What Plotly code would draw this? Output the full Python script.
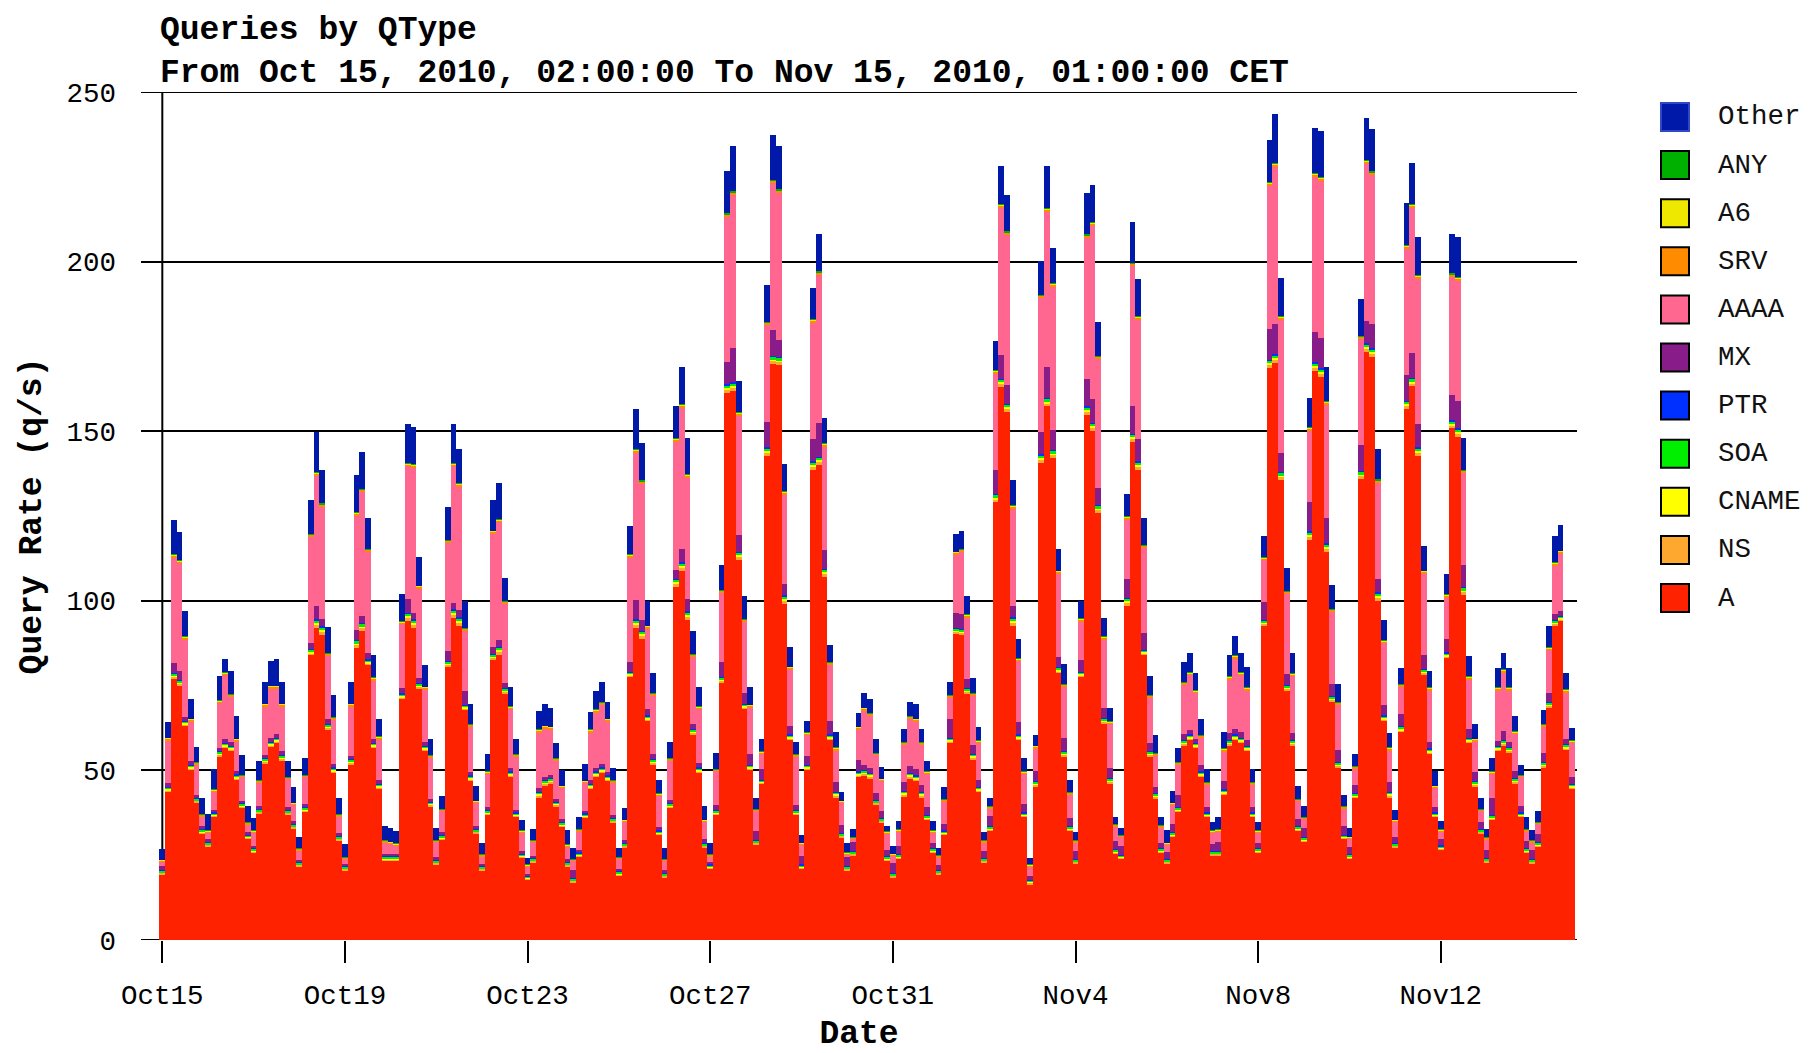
import plotly.graph_objects as go
from datetime import datetime, timedelta

# ---------------------------------------------------------------------------
# DNS query rate by query type, 3-hour bins (q/s), Oct 15 - Nov 15, 2010
# ---------------------------------------------------------------------------
FIRST_BIN = datetime(2010, 10, 15, 0, 0)
BIN_HOURS = 3

A = [
    19.4, 43.5, 77.0, 75.0, 63.0, 50.0, 40.6, 31.4,
    27.7, 36.3, 54.0, 56.5, 55.6, 47.1, 39.0, 29.8,
    25.8, 37.4, 51.9, 56.8, 58.0, 52.9, 37.1, 33.0,
    21.8, 37.9, 84.0, 92.0, 90.0, 62.0, 49.2, 29.4,
    20.6, 51.6, 86.0, 91.0, 81.0, 56.5, 44.4, 23.4,
    23.4, 23.4, 71.0, 94.0, 92.0, 74.0, 55.6, 39.5,
    22.3, 29.6, 80.6, 95.0, 92.7, 67.7, 46.8, 31.5,
    20.6, 37.0, 82.6, 84.0, 72.6, 48.0, 36.3, 24.2,
    17.7, 22.9, 42.0, 45.5, 46.0, 39.5, 33.5, 21.8,
    17.0, 24.5, 36.0, 44.4, 48.0, 49.2, 46.8, 34.7,
    19.0, 27.4, 77.4, 92.0, 88.7, 64.5, 51.6, 31.0,
    18.5, 39.0, 104.0, 108.9, 94.4, 60.5, 49.2, 27.4,
    21.0, 37.0, 75.8, 161.3, 162.0, 112.0, 68.0, 50.0,
    28.2, 46.0, 142.7, 169.7, 169.4, 99.2, 58.9, 37.0,
    21.0, 50.0, 138.7, 140.0, 107.0, 58.9, 42.0, 30.3,
    20.6, 25.0, 48.0, 48.4, 47.6, 40.0, 34.7, 23.4,
    18.5, 24.0, 42.3, 47.6, 46.8, 42.0, 35.5, 25.8,
    19.4, 31.0, 58.0, 90.3, 90.0, 72.6, 53.2, 43.5,
    22.9, 32.3, 129.0, 163.0, 155.6, 92.7, 58.9, 36.3,
    16.5, 45.2, 140.7, 157.3, 142.0, 78.7, 54.0, 32.3,
    22.6, 77.4, 154.8, 150.0, 125.8, 63.7, 46.0, 25.5,
    23.9, 98.4, 146.8, 138.7, 83.9, 54.0, 41.6, 25.8,
    22.6, 30.5, 37.9, 57.3, 58.9, 56.5, 48.0, 36.3,
    25.0, 25.0, 42.7, 57.3, 58.9, 58.0, 55.6, 36.3,
    25.8, 92.7, 168.6, 170.2, 135.5, 73.4, 57.3, 32.3,
    29.0, 118.0, 167.8, 166.0, 114.5, 70.2, 50.8, 29.8,
    24.0, 42.0, 135.8, 173.4, 172.0, 100.0, 64.5, 42.0,
    27.4, 61.3, 156.5, 163.2, 142.7, 78.2, 54.8, 36.3,
    26.6, 83.1, 150.8, 148.4, 101.6, 58.0, 45.2, 31.5,
    22.9, 35.5, 55.6, 57.3, 55.2, 46.0, 36.3, 25.8,
    22.6, 27.5, 50.8, 68.5, 92.7, 93.9, 56.0, 44.4,
]

NS = [
    0.4, 0.6, 0.6, 0.6, 0.6, 0.6, 0.4, 0.4,
    0.4, 0.4, 0.6, 0.6, 0.6, 0.6, 0.4, 0.4,
    0.4, 0.4, 0.6, 0.6, 0.6, 0.6, 0.4, 0.4,
    0.4, 0.4, 0.6, 1.0, 1.0, 0.6, 0.6, 0.4,
    0.4, 0.6, 1.0, 1.0, 0.6, 0.6, 0.6, 0.4,
    0.4, 0.4, 0.6, 1.0, 1.0, 0.6, 0.6, 0.4,
    0.4, 0.4, 0.6, 1.0, 1.0, 0.6, 0.6, 0.4,
    0.4, 0.4, 0.6, 1.0, 0.6, 0.6, 0.4, 0.4,
    0.4, 0.4, 0.6, 0.6, 0.6, 0.4, 0.4, 0.4,
    0.4, 0.4, 0.4, 0.6, 0.6, 0.6, 0.6, 0.4,
    0.4, 0.4, 0.6, 1.0, 1.0, 0.6, 0.6, 0.4,
    0.4, 0.4, 1.0, 1.0, 1.0, 0.6, 0.6, 0.4,
    0.4, 0.4, 0.6, 1.0, 1.0, 1.0, 0.6, 0.6,
    0.4, 0.4, 1.0, 1.0, 1.0, 1.0, 0.6, 0.4,
    0.4, 0.6, 1.0, 1.0, 1.0, 0.6, 0.6, 0.4,
    0.4, 0.4, 0.6, 0.6, 0.6, 0.4, 0.4, 0.4,
    0.4, 0.4, 0.6, 0.6, 0.6, 0.6, 0.4, 0.4,
    0.4, 0.4, 0.6, 0.6, 0.6, 0.6, 0.6, 0.6,
    0.4, 0.4, 1.0, 1.0, 1.0, 1.0, 0.6, 0.4,
    0.4, 0.6, 1.0, 1.0, 1.0, 0.6, 0.6, 0.4,
    0.4, 0.6, 1.0, 1.0, 1.0, 0.6, 0.6, 0.4,
    0.4, 1.0, 1.0, 1.0, 0.6, 0.6, 0.6, 0.4,
    0.4, 0.4, 0.4, 0.6, 0.6, 0.6, 0.6, 0.4,
    0.4, 0.4, 0.6, 0.6, 0.6, 0.6, 0.6, 0.4,
    0.4, 0.6, 1.0, 1.0, 1.0, 0.6, 0.6, 0.4,
    0.4, 1.0, 1.0, 1.0, 1.0, 0.6, 0.6, 0.4,
    0.4, 0.4, 1.0, 1.0, 1.0, 1.0, 0.6, 0.6,
    0.4, 0.6, 1.0, 1.0, 1.0, 0.6, 0.6, 0.4,
    0.4, 0.6, 1.0, 1.0, 1.0, 0.6, 0.6, 0.4,
    0.4, 0.4, 0.6, 0.6, 0.6, 0.6, 0.4, 0.4,
    0.4, 0.4, 0.6, 0.6, 0.6, 0.6, 0.6, 0.6,
]

CNAME = [
    0.2, 0.3, 0.3, 0.3, 0.3, 0.3, 0.2, 0.2,
    0.2, 0.2, 0.3, 0.3, 0.3, 0.3, 0.2, 0.2,
    0.2, 0.2, 0.3, 0.3, 0.3, 0.3, 0.2, 0.2,
    0.2, 0.2, 0.3, 0.4, 0.4, 0.3, 0.3, 0.2,
    0.2, 0.3, 0.4, 0.4, 0.3, 0.3, 0.3, 0.2,
    0.2, 0.2, 0.3, 0.4, 0.4, 0.3, 0.3, 0.2,
    0.2, 0.2, 0.3, 0.4, 0.4, 0.3, 0.3, 0.2,
    0.2, 0.2, 0.3, 0.4, 0.3, 0.3, 0.2, 0.2,
    0.2, 0.2, 0.3, 0.3, 0.3, 0.2, 0.2, 0.2,
    0.2, 0.2, 0.2, 0.3, 0.3, 0.3, 0.3, 0.2,
    0.2, 0.2, 0.3, 0.4, 0.4, 0.3, 0.3, 0.2,
    0.2, 0.2, 0.4, 0.4, 0.4, 0.3, 0.3, 0.2,
    0.2, 0.2, 0.3, 0.4, 0.4, 0.4, 0.3, 0.3,
    0.2, 0.2, 0.4, 0.4, 0.4, 0.4, 0.3, 0.2,
    0.2, 0.3, 0.4, 0.4, 0.4, 0.3, 0.3, 0.2,
    0.2, 0.2, 0.3, 0.3, 0.3, 0.2, 0.2, 0.2,
    0.2, 0.2, 0.3, 0.3, 0.3, 0.3, 0.2, 0.2,
    0.2, 0.2, 0.3, 0.3, 0.3, 0.3, 0.3, 0.3,
    0.2, 0.2, 0.4, 0.4, 0.4, 0.4, 0.3, 0.2,
    0.2, 0.3, 0.4, 0.4, 0.4, 0.3, 0.3, 0.2,
    0.2, 0.3, 0.4, 0.4, 0.4, 0.3, 0.3, 0.2,
    0.2, 0.4, 0.4, 0.4, 0.3, 0.3, 0.3, 0.2,
    0.2, 0.2, 0.2, 0.3, 0.3, 0.3, 0.3, 0.2,
    0.2, 0.2, 0.3, 0.3, 0.3, 0.3, 0.3, 0.2,
    0.2, 0.3, 0.4, 0.4, 0.4, 0.3, 0.3, 0.2,
    0.2, 0.4, 0.4, 0.4, 0.4, 0.3, 0.3, 0.2,
    0.2, 0.2, 0.4, 0.4, 0.4, 0.4, 0.3, 0.3,
    0.2, 0.3, 0.4, 0.4, 0.4, 0.3, 0.3, 0.2,
    0.2, 0.3, 0.4, 0.4, 0.4, 0.3, 0.3, 0.2,
    0.2, 0.2, 0.3, 0.3, 0.3, 0.3, 0.2, 0.2,
    0.2, 0.2, 0.3, 0.3, 0.3, 0.3, 0.3, 0.3,
]

SOA = [
    0.5, 0.6, 0.6, 0.6, 0.6, 0.6, 0.5, 0.5,
    0.5, 0.5, 0.6, 0.6, 0.6, 0.6, 0.5, 0.5,
    0.5, 0.5, 0.6, 0.6, 0.6, 0.6, 0.5, 0.5,
    0.5, 0.5, 0.6, 0.8, 0.8, 0.6, 0.6, 0.5,
    0.5, 0.6, 0.8, 0.8, 0.6, 0.6, 0.6, 0.5,
    0.5, 0.5, 0.6, 0.8, 0.8, 0.6, 0.6, 0.5,
    0.5, 0.5, 0.6, 0.8, 0.8, 0.6, 0.6, 0.5,
    0.5, 0.5, 0.6, 0.8, 0.6, 0.6, 0.5, 0.5,
    0.5, 0.5, 0.6, 0.6, 0.6, 0.5, 0.5, 0.5,
    0.5, 0.5, 0.5, 0.6, 0.6, 0.6, 0.6, 0.5,
    0.5, 0.5, 0.6, 0.8, 0.8, 0.6, 0.6, 0.5,
    0.5, 0.5, 0.8, 0.8, 0.8, 0.6, 0.6, 0.5,
    0.5, 0.5, 0.6, 0.8, 0.8, 0.8, 0.6, 0.6,
    0.5, 0.5, 0.8, 0.8, 0.8, 0.8, 0.6, 0.5,
    0.5, 0.6, 0.8, 0.8, 0.8, 0.6, 0.6, 0.5,
    0.5, 0.5, 0.6, 0.6, 0.6, 0.5, 0.5, 0.5,
    0.5, 0.5, 0.6, 0.6, 0.6, 0.6, 0.5, 0.5,
    0.5, 0.5, 0.6, 0.6, 0.6, 0.6, 0.6, 0.6,
    0.5, 0.5, 0.8, 0.8, 0.8, 0.8, 0.6, 0.5,
    0.5, 0.6, 0.8, 0.8, 0.8, 0.6, 0.6, 0.5,
    0.5, 0.6, 0.8, 0.8, 0.8, 0.6, 0.6, 0.5,
    0.5, 0.8, 0.8, 0.8, 0.6, 0.6, 0.6, 0.5,
    0.5, 0.5, 0.5, 0.6, 0.6, 0.6, 0.6, 0.5,
    0.5, 0.5, 0.6, 0.6, 0.6, 0.6, 0.6, 0.5,
    0.5, 0.6, 0.8, 0.8, 0.8, 0.6, 0.6, 0.5,
    0.5, 0.8, 0.8, 0.8, 0.8, 0.6, 0.6, 0.5,
    0.5, 0.5, 0.8, 0.8, 0.8, 0.8, 0.6, 0.6,
    0.5, 0.6, 0.8, 0.8, 0.8, 0.6, 0.6, 0.5,
    0.5, 0.6, 0.8, 0.8, 0.8, 0.6, 0.6, 0.5,
    0.5, 0.5, 0.6, 0.6, 0.6, 0.6, 0.5, 0.5,
    0.5, 0.5, 0.6, 0.6, 0.6, 0.6, 0.6, 0.6,
]

PTR = [
    0.2, 0.2, 0.2, 0.2, 0.2, 0.2, 0.2, 0.2,
    0.2, 0.2, 0.2, 0.2, 0.2, 0.2, 0.2, 0.2,
    0.2, 0.2, 0.2, 0.2, 0.2, 0.2, 0.2, 0.2,
    0.2, 0.2, 0.2, 0.3, 0.3, 0.2, 0.2, 0.2,
    0.2, 0.2, 0.3, 0.3, 0.2, 0.2, 0.2, 0.2,
    0.2, 0.2, 0.2, 0.3, 0.3, 0.2, 0.2, 0.2,
    0.2, 0.2, 0.2, 0.3, 0.3, 0.2, 0.2, 0.2,
    0.2, 0.2, 0.2, 0.3, 0.2, 0.2, 0.2, 0.2,
    0.2, 0.2, 0.2, 0.2, 0.2, 0.2, 0.2, 0.2,
    0.2, 0.2, 0.2, 0.2, 0.2, 0.2, 0.2, 0.2,
    0.2, 0.2, 0.2, 0.3, 0.3, 0.2, 0.2, 0.2,
    0.2, 0.2, 0.3, 0.3, 0.3, 0.2, 0.2, 0.2,
    0.2, 0.2, 0.2, 0.3, 0.3, 0.3, 0.2, 0.2,
    0.2, 0.2, 0.3, 0.3, 0.3, 0.3, 0.2, 0.2,
    0.2, 0.2, 0.3, 0.3, 0.3, 0.2, 0.2, 0.2,
    0.2, 0.2, 0.2, 0.2, 0.2, 0.2, 0.2, 0.2,
    0.2, 0.2, 0.2, 0.2, 0.2, 0.2, 0.2, 0.2,
    0.2, 0.2, 0.2, 0.2, 0.2, 0.2, 0.2, 0.2,
    0.2, 0.2, 0.3, 0.3, 0.3, 0.3, 0.2, 0.2,
    0.2, 0.2, 0.3, 0.3, 0.3, 0.2, 0.2, 0.2,
    0.2, 0.2, 0.3, 0.3, 0.3, 0.2, 0.2, 0.2,
    0.2, 0.3, 0.3, 0.3, 0.2, 0.2, 0.2, 0.2,
    0.2, 0.2, 0.2, 0.2, 0.2, 0.2, 0.2, 0.2,
    0.2, 0.2, 0.2, 0.2, 0.2, 0.2, 0.2, 0.2,
    0.2, 0.2, 0.3, 0.3, 0.3, 0.2, 0.2, 0.2,
    0.2, 0.3, 0.3, 0.3, 0.3, 0.2, 0.2, 0.2,
    0.2, 0.2, 0.3, 0.3, 0.3, 0.3, 0.2, 0.2,
    0.2, 0.2, 0.3, 0.3, 0.3, 0.2, 0.2, 0.2,
    0.2, 0.2, 0.3, 0.3, 0.3, 0.2, 0.2, 0.2,
    0.2, 0.2, 0.2, 0.2, 0.2, 0.2, 0.2, 0.2,
    0.2, 0.2, 0.2, 0.2, 0.2, 0.2, 0.2, 0.2,
]

MX = [
    1.0, 1.0, 3.0, 2.5, 1.0, 1.0, 0.8, 0.8,
    0.8, 0.8, 1.0, 1.0, 1.0, 1.0, 0.8, 0.6,
    0.6, 0.8, 1.0, 1.0, 1.0, 1.0, 0.8, 0.8,
    0.6, 0.8, 2.0, 4.0, 2.0, 1.5, 1.0, 0.8,
    0.6, 1.0, 3.0, 2.0, 2.0, 1.0, 1.0, 0.8,
    0.8, 0.8, 1.5, 4.0, 2.0, 1.5, 1.0, 0.8,
    1.0, 0.8, 3.0, 2.0, 2.0, 4.0, 1.0, 0.8,
    0.6, 0.8, 2.0, 2.0, 1.5, 1.0, 0.8, 0.6,
    0.6, 0.6, 1.0, 1.0, 1.0, 0.8, 0.8, 0.8,
    2.4, 0.8, 0.8, 1.0, 1.0, 1.0, 1.0, 0.8,
    0.6, 0.8, 3.0, 5.6, 3.0, 2.0, 1.5, 1.0,
    0.8, 1.0, 2.5, 4.0, 3.5, 1.5, 1.2, 1.0,
    0.8, 1.5, 4.5, 6.5, 10.0, 5.0, 3.0, 3.0,
    2.5, 3.0, 7.5, 7.5, 5.0, 3.2, 2.5, 1.6,
    2.5, 2.5, 6.5, 10.0, 5.5, 4.0, 3.0, 2.3,
    2.5, 2.5, 3.5, 1.5, 1.5, 2.0, 2.0, 1.8,
    3.0, 2.5, 2.5, 2.0, 2.0, 2.0, 2.5, 1.5,
    1.5, 2.0, 5.5, 4.5, 4.5, 2.5, 2.6, 2.0,
    2.0, 3.0, 7.0, 7.0, 5.6, 3.2, 3.7, 2.4,
    1.0, 2.8, 6.5, 9.0, 5.8, 3.0, 3.9, 2.4,
    2.4, 3.5, 8.0, 7.0, 5.0, 3.0, 3.0, 2.5,
    2.5, 5.6, 8.0, 6.5, 4.8, 2.5, 1.8, 1.5,
    2.0, 2.5, 3.5, 1.6, 1.2, 1.2, 2.0, 1.6,
    2.0, 2.7, 2.4, 2.0, 1.5, 1.5, 1.6, 1.6,
    1.5, 5.3, 9.0, 9.0, 5.6, 3.2, 2.0, 2.2,
    2.7, 8.7, 8.9, 8.9, 7.3, 3.7, 3.5, 2.5,
    2.0, 2.5, 7.5, 6.5, 7.0, 4.0, 3.0, 3.0,
    1.8, 3.5, 7.5, 7.5, 7.0, 4.0, 2.0, 1.6,
    2.0, 4.0, 7.3, 8.0, 6.5, 2.6, 2.6, 2.0,
    2.4, 5.0, 1.5, 2.5, 1.5, 2.2, 2.0, 2.0,
    2.6, 2.4, 2.7, 2.7, 1.6, 1.5, 1.6, 2.0,
]

AAAA = [
    1.4, 12.7, 31.2, 32.0, 23.0, 11.8, 9.1, 3.0,
    1.9, 5.4, 13.2, 19.0, 13.5, 8.8, 7.0, 2.4,
    4.0, 7.0, 14.3, 14.7, 13.5, 13.3, 8.3, 4.8,
    2.8, 8.1, 31.2, 38.3, 33.1, 18.7, 13.1, 5.0,
    1.4, 14.6, 33.5, 36.5, 29.8, 17.4, 12.1, 3.3,
    2.9, 2.4, 19.0, 39.1, 42.7, 26.5, 15.6, 12.3,
    4.3, 6.4, 31.9, 40.1, 36.4, 17.8, 13.4, 6.9,
    2.2, 10.0, 33.6, 34.6, 23.4, 17.4, 15.8, 5.6,
    2.1, 4.1, 16.6, 14.2, 13.4, 11.4, 9.3, 3.7,
    2.6, 5.5, 8.3, 14.2, 16.5, 17.5, 15.0, 9.7,
    3.0, 5.4, 30.8, 43.6, 40.2, 23.7, 17.3, 9.3,
    2.7, 11.7, 37.9, 41.5, 35.9, 19.9, 16.0, 5.2,
    1.6, 10.1, 20.4, 42.8, 45.1, 35.1, 21.2, 13.9,
    6.1, 4.7, 28.5, 43.4, 43.3, 26.3, 16.7, 14.3,
    3.3, 6.3, 34.3, 43.5, 30.4, 16.6, 9.3, 6.6,
    0.8, 1.0, 8.9, 16.1, 15.4, 11.3, 9.0, 4.9,
    2.1, 4.2, 11.1, 14.0, 14.0, 11.9, 9.8, 3.1,
    2.2, 6.6, 6.3, 17.2, 18.3, 18.4, 14.6, 10.9,
    2.6, 2.3, 28.5, 43.4, 44.1, 28.7, 18.0, 9.1,
    2.9, 6.8, 39.5, 45.9, 42.2, 24.7, 15.1, 7.0,
    2.5, 11.4, 41.6, 51.0, 37.9, 20.3, 13.0, 4.3,
    2.7, 17.4, 41.3, 35.1, 25.3, 13.3, 9.3, 4.7,
    2.2, 5.6, 9.1, 14.7, 16.4, 13.5, 8.0, 6.7,
    3.4, 3.0, 8.9, 15.9, 21.0, 17.0, 14.8, 6.7,
    3.1, 12.4, 42.2, 46.2, 39.3, 23.8, 16.9, 5.2,
    2.7, 21.0, 45.8, 46.5, 33.5, 21.2, 13.4, 5.3,
    2.6, 4.9, 31.3, 46.4, 44.0, 28.2, 18.4, 9.3,
    4.4, 8.2, 37.3, 42.7, 42.7, 24.2, 15.2, 5.7,
    2.1, 12.3, 34.8, 35.5, 27.0, 14.6, 9.1, 3.3,
    3.1, 7.3, 14.9, 17.5, 15.3, 10.9, 8.5, 3.0,
    2.3, 3.0, 7.7, 12.6, 14.5, 16.9, 13.8, 10.0,
]

SRV = [
    0.4, 0.5, 0.5, 0.5, 0.5, 0.5, 0.4, 0.4,
    0.4, 0.4, 0.5, 0.5, 0.5, 0.5, 0.4, 0.4,
    0.4, 0.4, 0.5, 0.5, 0.5, 0.5, 0.4, 0.4,
    0.4, 0.4, 0.5, 0.7, 0.7, 0.5, 0.5, 0.4,
    0.4, 0.5, 0.7, 0.7, 0.5, 0.5, 0.5, 0.4,
    0.4, 0.4, 0.5, 0.7, 0.7, 0.5, 0.5, 0.4,
    0.4, 0.4, 0.5, 0.7, 0.7, 0.5, 0.5, 0.4,
    0.4, 0.4, 0.5, 0.7, 0.5, 0.5, 0.4, 0.4,
    0.4, 0.4, 0.5, 0.5, 0.5, 0.4, 0.4, 0.4,
    0.4, 0.4, 0.4, 0.5, 0.5, 0.5, 0.5, 0.4,
    0.4, 0.4, 0.5, 0.7, 0.7, 0.5, 0.5, 0.4,
    0.4, 0.4, 0.7, 0.7, 0.7, 0.5, 0.5, 0.4,
    0.4, 0.4, 0.5, 0.7, 0.7, 0.7, 0.5, 0.5,
    0.4, 0.4, 0.7, 0.7, 0.7, 0.7, 0.5, 0.4,
    0.4, 0.5, 0.7, 0.7, 0.7, 0.5, 0.5, 0.4,
    0.4, 0.4, 0.5, 0.5, 0.5, 0.4, 0.4, 0.4,
    0.4, 0.4, 0.5, 0.5, 0.5, 0.5, 0.4, 0.4,
    0.4, 0.4, 0.5, 0.5, 0.5, 0.5, 0.5, 0.5,
    0.4, 0.4, 0.7, 0.7, 0.7, 0.7, 0.5, 0.4,
    0.4, 0.5, 0.7, 0.7, 0.7, 0.5, 0.5, 0.4,
    0.4, 0.5, 0.7, 0.7, 0.7, 0.5, 0.5, 0.4,
    0.4, 0.7, 0.7, 0.7, 0.5, 0.5, 0.5, 0.4,
    0.4, 0.4, 0.4, 0.5, 0.5, 0.5, 0.5, 0.4,
    0.4, 0.4, 0.5, 0.5, 0.5, 0.5, 0.5, 0.4,
    0.4, 0.5, 0.7, 0.7, 0.7, 0.5, 0.5, 0.4,
    0.4, 0.7, 0.7, 0.7, 0.7, 0.5, 0.5, 0.4,
    0.4, 0.4, 0.7, 0.7, 0.7, 0.7, 0.5, 0.5,
    0.4, 0.5, 0.7, 0.7, 0.7, 0.5, 0.5, 0.4,
    0.4, 0.5, 0.7, 0.7, 0.7, 0.5, 0.5, 0.4,
    0.4, 0.4, 0.5, 0.5, 0.5, 0.5, 0.4, 0.4,
    0.4, 0.4, 0.5, 0.5, 0.5, 0.5, 0.5, 0.5,
]

A6 = [
    0.1, 0.2, 0.2, 0.2, 0.2, 0.2, 0.1, 0.1,
    0.1, 0.1, 0.2, 0.2, 0.2, 0.2, 0.1, 0.1,
    0.1, 0.1, 0.2, 0.2, 0.2, 0.2, 0.1, 0.1,
    0.1, 0.1, 0.2, 0.2, 0.2, 0.2, 0.2, 0.1,
    0.1, 0.2, 0.2, 0.2, 0.2, 0.2, 0.2, 0.1,
    0.1, 0.1, 0.2, 0.2, 0.2, 0.2, 0.2, 0.1,
    0.1, 0.1, 0.2, 0.2, 0.2, 0.2, 0.2, 0.1,
    0.1, 0.1, 0.2, 0.2, 0.2, 0.2, 0.1, 0.1,
    0.1, 0.1, 0.2, 0.2, 0.2, 0.1, 0.1, 0.1,
    0.1, 0.1, 0.1, 0.2, 0.2, 0.2, 0.2, 0.1,
    0.1, 0.1, 0.2, 0.2, 0.2, 0.2, 0.2, 0.1,
    0.1, 0.1, 0.2, 0.2, 0.2, 0.2, 0.2, 0.1,
    0.1, 0.1, 0.2, 0.2, 0.2, 0.2, 0.2, 0.2,
    0.1, 0.1, 0.2, 0.2, 0.2, 0.2, 0.2, 0.1,
    0.1, 0.2, 0.2, 0.2, 0.2, 0.2, 0.2, 0.1,
    0.1, 0.1, 0.2, 0.2, 0.2, 0.1, 0.1, 0.1,
    0.1, 0.1, 0.2, 0.2, 0.2, 0.2, 0.1, 0.1,
    0.1, 0.1, 0.2, 0.2, 0.2, 0.2, 0.2, 0.2,
    0.1, 0.1, 0.2, 0.2, 0.2, 0.2, 0.2, 0.1,
    0.1, 0.2, 0.2, 0.2, 0.2, 0.2, 0.2, 0.1,
    0.1, 0.2, 0.2, 0.2, 0.2, 0.2, 0.2, 0.1,
    0.1, 0.2, 0.2, 0.2, 0.2, 0.2, 0.2, 0.1,
    0.1, 0.1, 0.1, 0.2, 0.2, 0.2, 0.2, 0.1,
    0.1, 0.1, 0.2, 0.2, 0.2, 0.2, 0.2, 0.1,
    0.1, 0.2, 0.2, 0.2, 0.2, 0.2, 0.2, 0.1,
    0.1, 0.2, 0.2, 0.2, 0.2, 0.2, 0.2, 0.1,
    0.1, 0.1, 0.2, 0.2, 0.2, 0.2, 0.2, 0.2,
    0.1, 0.2, 0.2, 0.2, 0.2, 0.2, 0.2, 0.1,
    0.1, 0.2, 0.2, 0.2, 0.2, 0.2, 0.2, 0.1,
    0.1, 0.1, 0.2, 0.2, 0.2, 0.2, 0.1, 0.1,
    0.1, 0.1, 0.2, 0.2, 0.2, 0.2, 0.2, 0.2,
]

ANY = [
    0.1, 0.1, 0.1, 0.1, 0.1, 0.1, 0.1, 0.1,
    0.1, 0.1, 0.1, 0.1, 0.1, 0.1, 0.1, 0.1,
    0.1, 0.1, 0.1, 0.1, 0.1, 0.1, 0.1, 0.1,
    0.1, 0.1, 0.1, 0.2, 0.2, 0.1, 0.1, 0.1,
    0.1, 0.1, 0.2, 0.2, 0.1, 0.1, 0.1, 0.1,
    0.1, 0.1, 0.1, 0.2, 0.2, 0.1, 0.1, 0.1,
    0.1, 0.1, 0.1, 0.2, 0.2, 0.1, 0.1, 0.1,
    0.1, 0.1, 0.1, 0.2, 0.1, 0.1, 0.1, 0.1,
    0.1, 0.1, 0.1, 0.1, 0.1, 0.1, 0.1, 0.1,
    0.1, 0.1, 0.1, 0.1, 0.1, 0.1, 0.1, 0.1,
    0.1, 0.1, 0.1, 0.2, 0.2, 0.1, 0.1, 0.1,
    0.1, 0.1, 0.2, 0.2, 0.2, 0.1, 0.1, 0.1,
    0.1, 0.1, 0.1, 0.2, 0.2, 0.2, 0.1, 0.1,
    0.1, 0.1, 0.2, 0.2, 0.2, 0.2, 0.1, 0.1,
    0.1, 0.1, 0.2, 0.2, 0.2, 0.1, 0.1, 0.1,
    0.1, 0.1, 0.1, 0.1, 0.1, 0.1, 0.1, 0.1,
    0.1, 0.1, 0.1, 0.1, 0.1, 0.1, 0.1, 0.1,
    0.1, 0.1, 0.1, 0.1, 0.1, 0.1, 0.1, 0.1,
    0.1, 0.1, 0.2, 0.2, 0.2, 0.2, 0.1, 0.1,
    0.1, 0.1, 0.2, 0.2, 0.2, 0.1, 0.1, 0.1,
    0.1, 0.1, 0.2, 0.2, 0.2, 0.1, 0.1, 0.1,
    0.1, 0.2, 0.2, 0.2, 0.1, 0.1, 0.1, 0.1,
    0.1, 0.1, 0.1, 0.1, 0.1, 0.1, 0.1, 0.1,
    0.1, 0.1, 0.1, 0.1, 0.1, 0.1, 0.1, 0.1,
    0.1, 0.1, 0.2, 0.2, 0.2, 0.1, 0.1, 0.1,
    0.1, 0.2, 0.2, 0.2, 0.2, 0.1, 0.1, 0.1,
    0.1, 0.1, 0.2, 0.2, 0.2, 0.2, 0.1, 0.1,
    0.1, 0.1, 0.2, 0.2, 0.2, 0.1, 0.1, 0.1,
    0.1, 0.1, 0.2, 0.2, 0.2, 0.1, 0.1, 0.1,
    0.1, 0.1, 0.1, 0.1, 0.1, 0.1, 0.1, 0.1,
    0.1, 0.1, 0.1, 0.1, 0.1, 0.1, 0.1, 0.1,
]

OTHER = [
    3.2, 4.5, 10.0, 8.2, 7.6, 5.7, 4.4, 4.8,
    4.8, 5.9, 7.0, 3.7, 6.8, 6.7, 5.8, 4.8,
    3.7, 5.6, 6.4, 7.3, 7.7, 6.4, 4.6, 4.5,
    3.2, 4.9, 10.0, 11.8, 10.0, 7.6, 6.3, 4.8,
    3.7, 6.4, 11.0, 10.8, 9.2, 6.5, 5.3, 4.1,
    4.0, 3.5, 8.0, 11.3, 11.0, 8.5, 6.3, 4.9,
    3.5, 3.9, 9.7, 11.3, 10.0, 8.0, 6.0, 4.4,
    3.2, 5.1, 9.1, 10.5, 6.8, 5.6, 4.6, 3.2,
    1.9, 3.2, 5.3, 6.5, 5.6, 4.4, 4.5, 4.1,
    3.2, 3.6, 5.0, 5.2, 5.4, 5.9, 4.9, 3.7,
    2.6, 3.5, 8.3, 11.7, 11.0, 7.3, 5.8, 3.9,
    3.2, 4.8, 9.3, 10.9, 10.6, 6.7, 5.6, 4.0,
    3.2, 4.5, 7.3, 12.4, 13.5, 9.1, 6.6, 5.1,
    3.2, 3.8, 10.9, 13.2, 12.9, 8.0, 5.7, 3.6,
    2.3, 3.2, 9.2, 10.9, 7.5, 5.1, 4.5, 2.5,
    2.7, 2.4, 4.0, 4.4, 4.0, 4.2, 3.5, 1.5,
    2.2, 2.6, 3.7, 4.1, 4.4, 3.7, 3.2, 2.9,
    2.1, 3.5, 3.8, 5.2, 5.4, 5.3, 4.2, 4.0,
    2.5, 2.4, 8.5, 11.2, 10.8, 7.3, 5.6, 3.9,
    1.9, 3.2, 10.0, 12.4, 10.4, 6.4, 6.0, 3.5,
    2.5, 5.2, 12.2, 11.0, 10.0, 5.3, 4.0, 2.1,
    2.0, 6.5, 11.9, 10.9, 8.0, 5.4, 5.3, 2.4,
    3.6, 3.5, 4.1, 5.8, 5.7, 5.0, 4.8, 3.8,
    2.4, 3.7, 4.8, 6.2, 5.6, 5.7, 6.1, 3.8,
    2.4, 6.1, 12.4, 14.6, 11.2, 6.8, 6.0, 3.9,
    3.2, 8.4, 13.4, 13.4, 10.1, 7.2, 5.3, 3.2,
    2.5, 3.5, 10.8, 12.4, 12.4, 9.0, 6.0, 4.2,
    2.9, 4.8, 12.5, 12.0, 11.3, 7.2, 4.9, 4.2,
    2.6, 6.1, 11.5, 11.8, 9.3, 5.9, 4.3, 3.2,
    2.4, 3.9, 5.8, 4.9, 5.8, 4.5, 2.9, 3.6,
    2.9, 3.2, 4.0, 6.4, 7.7, 7.5, 4.8, 3.7,
]

# Stack order, bottom to top, with the colours of each query type
SERIES = [
    ("A", A, "#FF2200"),
    ("NS", NS, "#FFA830"),
    ("CNAME", CNAME, "#FFFF00"),
    ("SOA", SOA, "#00EE00"),
    ("PTR", PTR, "#0030FF"),
    ("MX", MX, "#881C88"),
    ("AAAA", AAAA, "#FF6690"),
    ("SRV", SRV, "#FF8C00"),
    ("A6", A6, "#EEE800"),
    ("ANY", ANY, "#00B000"),
    ("Other", OTHER, "#0019A8"),
]

TICK_DATES = ["2010-10-15", "2010-10-19", "2010-10-23", "2010-10-27",
              "2010-10-31", "2010-11-04", "2010-11-08", "2010-11-12"]
TICK_LABELS = ["Oct15", "Oct19", "Oct23", "Oct27", "Oct31", "Nov4", "Nov8", "Nov12"]
Y_TICKS = [0, 50, 100, 150, 200, 250]
Y_MAX = 250

bins = [FIRST_BIN + timedelta(hours=BIN_HOURS * i) for i in range(len(A))]

MONO = "Liberation Mono, DejaVu Sans Mono, monospace"

fig = go.Figure()
for name, values, color in SERIES:
    fig.add_trace(go.Bar(
        x=bins, y=values, name=name,
        marker=dict(color=color, line=dict(width=0)),
        showlegend=False,
    ))

# Figure geometry (pixels)
W, H = 1814, 1053
PL, PR, PT, PB = 141, 1577, 92, 940


def px_x(px):
    return (px - PL) / (PR - PL)


def px_y(py):
    return (PB - py) / (PB - PT)


fig.update_layout(
    width=W, height=H,
    margin=dict(l=PL, r=W - PR, t=PT, b=H - PB, pad=0),
    paper_bgcolor="white", plot_bgcolor="white",
    barmode="stack", bargap=0,
    font=dict(family=MONO, color="black"),
    title=dict(
        text="Queries by QType<br>From Oct 15, 2010, 02:00:00 To Nov 15, 2010, 01:00:00 CET",
        x=160 / W, xref="container", xanchor="left",
        y=1 - 39 / H, yref="container", yanchor="top",
        font=dict(family=MONO, size=33, color="black", weight="bold"),
    ),
    xaxis=dict(
        type="date",
        range=["2010-10-14 12:48", "2010-11-14 23:36"],
        tickmode="array", tickvals=TICK_DATES, ticktext=TICK_LABELS,
        ticks="outside", ticklen=22, tickwidth=2, tickcolor="black",
        ticklabelstandoff=8,
        tickfont=dict(family=MONO, size=27.5, color="black"),
        showgrid=False, zeroline=False, showline=False,
        automargin=False,
        title=dict(text="Date", standoff=16,
                   font=dict(family=MONO, size=33, color="black", weight="bold")),
    ),
    yaxis=dict(
        range=[0, Y_MAX],
        tickmode="array", tickvals=Y_TICKS,
        ticks="", ticklabelstandoff=24,
        tickfont=dict(family=MONO, size=27.5, color="black"),
        showgrid=True, gridcolor="black", gridwidth=2,
        zeroline=False, showline=False,
        automargin=False,
        title=dict(text="Query Rate (q/s)", standoff=14,
                   font=dict(family=MONO, size=33, color="black", weight="bold")),
    ),
)

# Grid rules at the bottom and top edges of the value range
for level in (0, Y_MAX):
    fig.add_shape(type="line", xref="paper", yref="y",
                  x0=0, x1=1, y0=level, y1=level,
                  line=dict(color="black", width=2), layer="below")

# Vertical axis line at the start of the period
fig.add_shape(type="line", xref="x", yref="y",
              x0=TICK_DATES[0], x1=TICK_DATES[0], y0=0, y1=Y_MAX,
              line=dict(color="black", width=2), layer="below")

# Legend: swatches and labels to the right of the plot, top of stack first
SW_LEFT, SW_SIZE, SW_TOP, SW_STEP, LABEL_X = 1661, 28, 103, 48.1, 1716
for k, (name, values, color) in enumerate(reversed(SERIES)):
    top = SW_TOP + k * SW_STEP
    border = "#3048C8" if name == "Other" else "black"
    fig.add_shape(type="rect", xref="paper", yref="paper",
                  x0=px_x(SW_LEFT), x1=px_x(SW_LEFT + SW_SIZE),
                  y0=px_y(top + SW_SIZE), y1=px_y(top),
                  fillcolor=color, line=dict(color=border, width=2))
    fig.add_annotation(xref="paper", yref="paper",
                       x=px_x(LABEL_X), y=px_y(top + SW_SIZE / 2),
                       xanchor="left", yanchor="middle", showarrow=False,
                       text=name, font=dict(family=MONO, size=27.5, color="#111111"))

fig.write_html("out.html")
